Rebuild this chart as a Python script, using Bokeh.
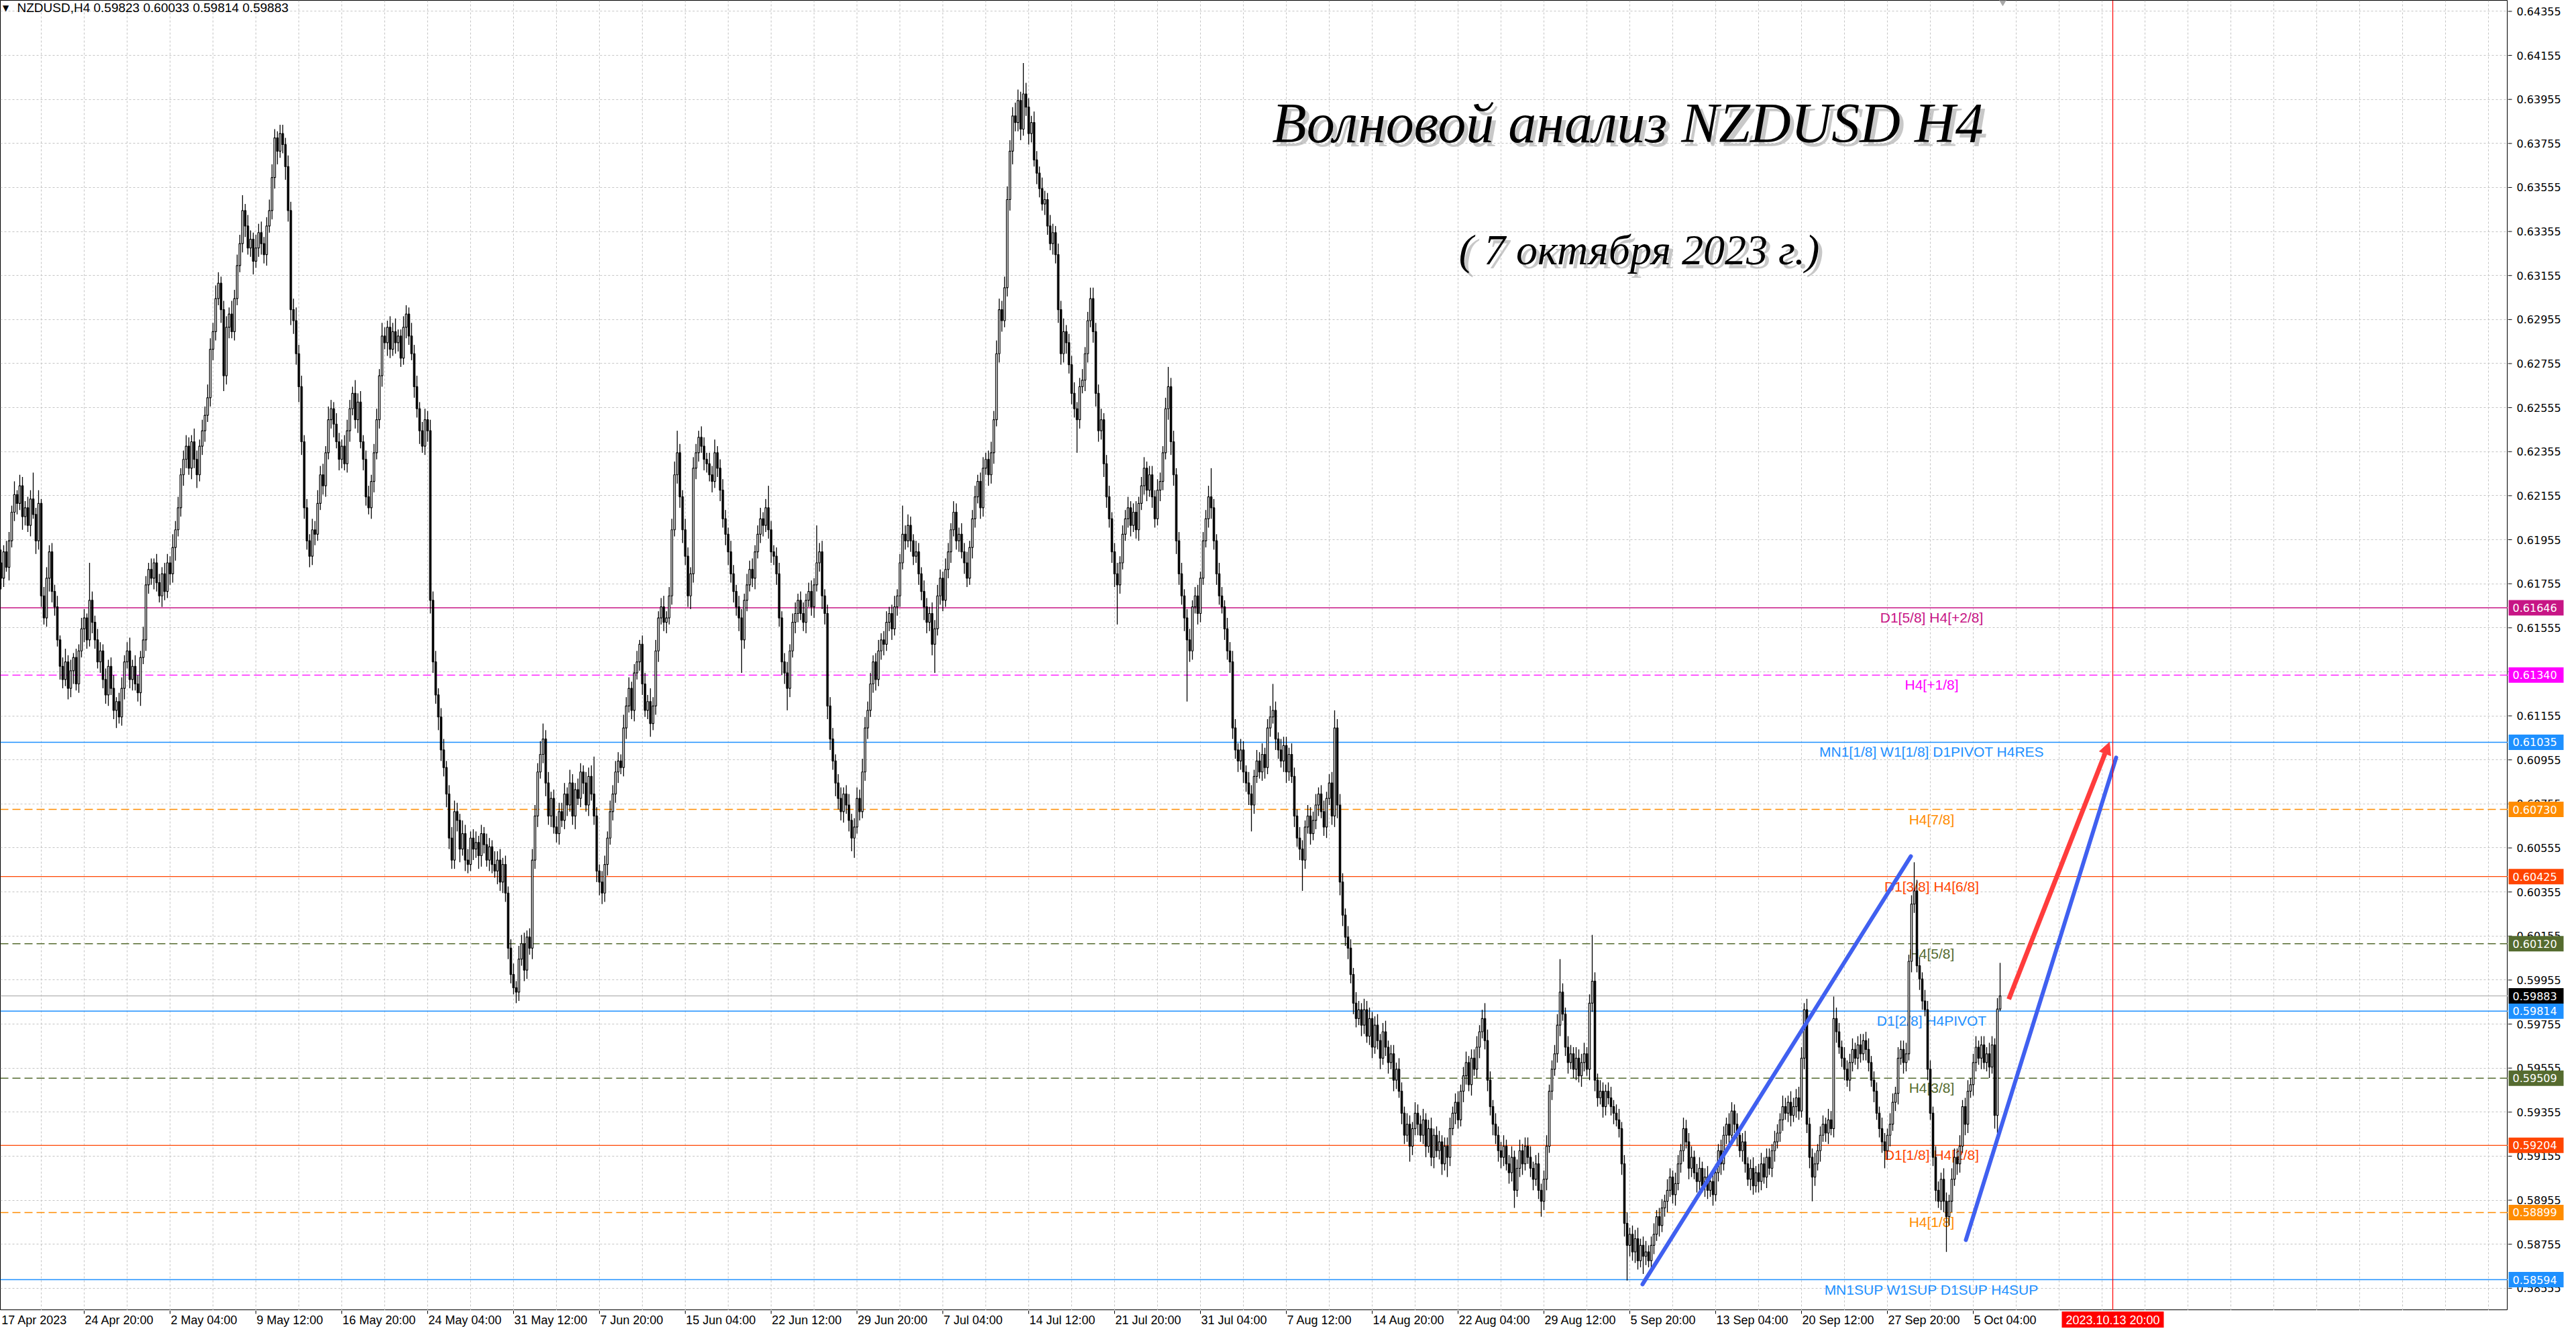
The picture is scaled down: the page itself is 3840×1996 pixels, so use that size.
import numpy as np
from bokeh.plotting import figure
from bokeh.layouts import column, row
from bokeh.models import (ColumnDataSource, Range1d, FixedTicker, Span, Label,
                          Arrow, NormalHead, Grid, Spacer)
from bokeh.core.properties import value
from bokeh.embed import file_html
from bokeh.resources import INLINE

# ---------------- DATA (prices in pips, 1 pip = 0.0001) ----------------
FIRST_BAR = 3          # bar index of first visible H4 candle (17 Apr 2023)
open_first = 6182
close_pips = [
    6185, 6178, 6190, 6183, 6195, 6208, 6216, 6212, 6220, 6206,   # 3
    6210, 6202, 6214, 6207, 6195, 6212, 6170, 6160, 6178, 6190,   # 13
    6172, 6165, 6150, 6138, 6132, 6140, 6128, 6136, 6142, 6130,   # 23
    6145, 6155, 6160, 6150, 6168, 6158, 6150, 6140, 6145, 6132,   # 33
    6125, 6138, 6128, 6118, 6122, 6115, 6128, 6140, 6145, 6132,   # 43
    6138, 6130, 6126, 6142, 6150, 6175, 6182, 6178, 6185, 6176,   # 53
    6170, 6180, 6172, 6185, 6180, 6192, 6200, 6210, 6225, 6232,   # 63
    6238, 6228, 6240, 6232, 6225, 6238, 6245, 6252, 6260, 6282,   # 73
    6290, 6305, 6312, 6300, 6270, 6292, 6298, 6290, 6305, 6320,   # 83
    6330, 6345, 6338, 6328, 6332, 6322, 6328, 6335, 6330, 6325,   # 93
    6338, 6345, 6360, 6378, 6372, 6380, 6375, 6365, 6345, 6300,   # 103
    6295, 6280, 6265, 6240, 6210, 6195, 6188, 6200, 6198, 6212,   # 113
    6225, 6220, 6235, 6250, 6255, 6248, 6240, 6232, 6238, 6230,   # 123
    6245, 6255, 6262, 6250, 6258, 6240, 6232, 6215, 6210, 6222,   # 133
    6235, 6250, 6270, 6288, 6285, 6292, 6282, 6290, 6285, 6288,   # 143
    6278, 6292, 6298, 6288, 6280, 6265, 6255, 6245, 6238, 6250,   # 153
    6245, 6168, 6140, 6125, 6115, 6100, 6092, 6080, 6060, 6050,   # 163
    6072, 6068, 6055, 6062, 6050, 6048, 6060, 6055, 6058, 6052,   # 173
    6062, 6057, 6050, 6056, 6048, 6045, 6050, 6040, 6048, 6035,   # 183
    6010, 5998, 5992, 5990, 6005, 6012, 6000, 6015, 6010, 6050,   # 193
    6070, 6090, 6098, 6105, 6085, 6070, 6078, 6065, 6062, 6072,   # 203
    6068, 6080, 6075, 6085, 6070, 6082, 6078, 6090, 6085, 6075,   # 213
    6088, 6080, 6070, 6045, 6040, 6035, 6048, 6060, 6072, 6080,   # 223
    6090, 6095, 6092, 6110, 6120, 6128, 6118, 6135, 6140, 6148,   # 233
    6130, 6118, 6122, 6112, 6120, 6145, 6160, 6165, 6158, 6160,   # 243
    6170, 6200, 6225, 6235, 6215, 6200, 6188, 6170, 6180, 6228,   # 253
    6235, 6242, 6238, 6232, 6230, 6225, 6222, 6235, 6228, 6218,   # 263
    6205, 6198, 6190, 6180, 6172, 6165, 6160, 6150, 6168, 6175,   # 273
    6182, 6178, 6190, 6198, 6205, 6202, 6210, 6200, 6190, 6188,   # 283
    6180, 6160, 6140, 6135, 6128, 6145, 6158, 6162, 6168, 6162,   # 293
    6158, 6168, 6172, 6165, 6175, 6185, 6190, 6170, 6162, 6120,   # 303
    6105, 6095, 6085, 6078, 6072, 6080, 6075, 6068, 6060, 6065,   # 313
    6078, 6072, 6090, 6110, 6118, 6130, 6140, 6132, 6145, 6150,   # 323
    6148, 6158, 6162, 6155, 6165, 6170, 6185, 6198, 6195, 6202,   # 333
    6195, 6188, 6190, 6180, 6172, 6165, 6158, 6162, 6148, 6155,   # 343
    6170, 6178, 6168, 6182, 6190, 6200, 6208, 6195, 6198, 6190,   # 353
    6185, 6178, 6192, 6205, 6215, 6222, 6210, 6228, 6232, 6225,   # 363
    6235, 6250, 6280, 6300, 6295, 6310, 6350, 6372, 6388, 6385,   # 373
    6395, 6382, 6398, 6392, 6380, 6385, 6368, 6362, 6355, 6348,   # 383
    6350, 6338, 6330, 6335, 6325, 6300, 6280, 6290, 6285, 6275,   # 393
    6262, 6255, 6250, 6265, 6268, 6280, 6295, 6305, 6290, 6262,   # 403
    6245, 6250, 6230, 6215, 6205, 6190, 6180, 6175, 6185, 6198,   # 413
    6205, 6210, 6202, 6208, 6200, 6212, 6220, 6228, 6218, 6225,   # 423
    6215, 6205, 6218, 6222, 6235, 6255, 6265, 6240, 6225, 6195,   # 433
    6180, 6170, 6160, 6150, 6145, 6165, 6170, 6162, 6178, 6195,   # 443
    6205, 6215, 6210, 6195, 6180, 6170, 6165, 6155, 6145, 6140,   # 453
    6110, 6100, 6095, 6100, 6090, 6085, 6080, 6075, 6088, 6095,   # 463
    6090, 6098, 6092, 6110, 6115, 6118, 6105, 6100, 6095, 6102,   # 473
    6090, 6098, 6088, 6070, 6060, 6055, 6050, 6065, 6070, 6062,   # 483
    6068, 6075, 6080, 6072, 6065, 6078, 6085, 6070, 6110, 6075,   # 493
    6040, 6025, 6015, 6010, 5998, 5985, 5978, 5982, 5975, 5982,   # 503
    5970, 5978, 5965, 5975, 5968, 5960, 5972, 5965, 5958, 5962,   # 513
    5950, 5955, 5945, 5935, 5925, 5930, 5920, 5928, 5935, 5930,   # 523
    5925, 5932, 5920, 5928, 5915, 5925, 5918, 5922, 5912, 5920,   # 533
    5915, 5928, 5935, 5940, 5932, 5945, 5952, 5958, 5948, 5960,   # 543
    5955, 5965, 5972, 5978, 5968, 5950, 5938, 5930, 5925, 5918,   # 553
    5915, 5920, 5912, 5908, 5915, 5900, 5910, 5918, 5912, 5920,   # 563
    5915, 5910, 5905, 5912, 5900, 5895, 5905, 5920, 5945, 5955,   # 573
    5962, 5975, 5990, 5980, 5965, 5958, 5962, 5955, 5960, 5952,   # 583
    5958, 5962, 5955, 5985, 5995, 5950, 5942, 5945, 5938, 5945,   # 593
    5942, 5938, 5935, 5932, 5928, 5912, 5885, 5875, 5880, 5872,   # 603
    5878, 5868, 5875, 5870, 5872, 5868, 5875, 5880, 5888, 5884,   # 613
    5892, 5895, 5900, 5906, 5898, 5903, 5912, 5918, 5928, 5922,   # 623
    5910, 5915, 5908, 5904, 5910, 5902, 5906, 5900, 5904, 5898,   # 633
    5908, 5918, 5912, 5925, 5930, 5925, 5936, 5930, 5925, 5918,   # 643
    5922, 5912, 5905, 5910, 5902, 5908, 5904, 5912, 5906, 5915,   # 653
    5910, 5918, 5922, 5926, 5932, 5938, 5935, 5940, 5934, 5938,   # 663
    5942, 5936, 5960, 5982, 5930, 5915, 5906, 5912, 5918, 5925,   # 673
    5930, 5926, 5932, 5928, 5978, 5972, 5965, 5960, 5955, 5950,   # 683
    5958, 5964, 5960, 5966, 5962, 5968, 5964, 5958, 5950, 5945,   # 693
    5935, 5928, 5922, 5918, 5925, 5930, 5940, 5944, 5960, 5964,   # 703
    5958, 5962, 6004, 6030, 6036, 6002, 5996, 5986, 5982, 5955,   # 713
    5935, 5915, 5900, 5895, 5905, 5895, 5888, 5895, 5905, 5915,   # 723
    5912, 5920, 5938, 5930, 5945, 5948, 5958, 5965, 5960, 5966,   # 733
    5958, 5962, 5956, 5966, 5934, 5982.3, 5988.3,                 # 743
]
upper_wick = [
    4,6,3,5,4,3,6,2,5,4,  3,5,4,12,3,6,2,4,5,3,  4,3,5,2,4,6,3,5,2,4,
    3,5,4,2,17,4,3,5,4,3,  5,3,4,6,2,4,5,3,4,6,  3,5,4,3,6,4,3,5,2,4,
    4,3,5,4,3,6,4,5,3,4,  5,4,3,6,4,3,5,4,6,5,  4,6,5,3,4,5,3,6,4,5,
    4,7,3,5,4,3,6,4,5,3,  4,5,6,4,3,4,4,3,5,4,  5,6,4,5,3,4,3,5,4,6,
    4,5,3,6,4,3,5,4,3,5,  5,4,3,6,4,5,3,4,5,3,  4,5,3,6,4,3,5,4,6,3,
    3,5,4,3,6,4,5,3,4,5,  4,5,4,5,3,4,5,3,4,5,  5,4,3,6,4,5,3,4,5,3,
    4,3,5,4,3,6,4,5,3,4,  3,4,5,3,6,4,5,3,4,5,  5,4,6,7,4,5,3,4,5,4,
    4,5,3,6,4,3,5,4,3,5,  4,5,17,4,3,5,4,3,5,4,  5,4,3,6,4,5,3,4,5,2,
    4,5,3,6,4,5,3,4,5,3,  4,5,6,10,4,3,5,4,3,5,  4,3,5,4,3,5,4,6,3,4,
    5,4,3,5,4,3,5,4,3,5,  4,5,3,4,5,3,4,10,4,3,  4,5,3,4,5,3,4,5,3,4,
    5,3,4,5,3,17,4,5,3,4,  4,5,3,4,5,3,4,5,3,4,  5,4,6,5,4,5,3,4,5,3,
    4,5,3,4,5,3,4,13,4,5,  4,3,5,4,3,5,4,3,5,4,  5,4,3,5,4,3,5,4,3,5,
    4,5,3,4,5,3,4,5,3,4,  5,4,6,5,4,5,6,5,4,6,  5,4,14,5,4,3,5,4,3,5,
    4,3,5,4,3,5,4,6,3,4,  4,5,3,4,5,3,4,5,5,4,  4,5,3,4,5,3,4,5,3,4,
    4,5,3,4,5,3,4,5,3,4,  4,3,5,4,3,5,9,4,5,3,  4,5,3,4,5,3,4,5,3,4,
    4,5,13,4,3,5,4,3,5,4,  5,4,3,5,4,3,5,4,3,5,  4,5,3,4,5,12,4,3,5,4,
    4,3,5,4,3,5,4,3,5,4,  4,5,3,4,5,3,4,5,8,4,  5,4,3,5,4,3,5,4,3,5,
    4,5,3,4,5,3,4,5,3,4,  4,3,5,4,3,5,4,3,5,4,  4,5,3,4,5,3,4,5,3,4,
    4,5,3,4,5,3,4,5,3,4,  4,5,3,4,7,5,4,3,5,4,  4,5,3,4,5,3,4,5,3,4,
    4,5,3,4,5,3,4,5,3,4,  4,5,15,4,3,5,4,3,5,4,  4,5,3,4,21,4,3,5,4,3,
    4,5,3,4,5,3,4,5,3,4,  4,5,3,4,5,3,4,5,3,4,  4,3,5,4,3,5,4,3,5,4,
    4,5,3,4,5,3,4,5,3,4,  4,3,5,4,3,5,4,3,5,4,  4,5,3,4,5,3,4,5,3,4,
    4,3,5,4,3,5,4,3,5,4,  4,5,5,3,5,3,4,5,3,4,  4,3,5,4,10,5,4,3,5,4,
    4,5,3,4,5,3,4,5,3,4,  4,3,5,4,3,5,4,3,5,4,  4,5,3,4,13,5,4,3,5,4,
    4,3,5,4,3,5,4,3,5,4,  4,5,3,4,5,3,4,5,3,4,  4,3,5,4,3,5,15,
]
lower_wick = [
    3,5,4,2,6,3,4,5,3,6,  4,3,5,2,6,4,5,3,4,6,  5,4,3,6,4,3,5,4,6,3,
    4,3,6,4,3,5,4,3,5,4,  4,5,3,4,8,3,4,5,3,4,  5,3,4,6,3,5,4,3,5,4,
    3,5,4,3,5,4,6,3,4,5,  4,3,5,4,6,3,4,5,3,4,  5,4,3,6,7,4,5,3,4,3,
    3,4,5,3,4,6,3,4,5,4,  5,3,4,5,6,3,4,6,5,7,  6,5,7,6,5,4,5,4,5,3,
    3,4,5,3,4,6,3,5,4,3,  4,5,3,4,6,3,5,4,3,5,  5,3,4,5,3,6,4,3,5,4,
    4,3,5,4,3,5,4,6,3,4,  5,6,5,4,6,5,4,6,5,4,  4,5,6,3,5,4,3,5,4,6,
    5,4,3,5,4,3,6,4,5,4,  5,4,3,5,4,3,5,4,3,5,  4,5,3,4,6,4,5,3,4,5,
    3,4,5,3,4,6,3,4,5,3,  5,3,4,5,6,5,4,5,3,4,  4,5,3,4,5,3,4,5,3,4,
    5,3,4,6,3,4,5,3,4,5,  3,4,3,4,5,6,4,5,6,4,  5,4,3,5,4,3,5,3,4,5,
    4,5,6,4,5,4,6,15,4,5,  3,4,5,3,4,5,3,4,5,4,  5,4,6,5,10,4,3,5,4,3,
    4,5,3,4,5,3,4,6,5,6,  5,4,6,5,4,5,4,5,6,9,  3,4,3,4,5,3,4,5,3,4,
    5,3,4,5,3,4,5,3,4,3,  5,4,3,5,4,6,5,4,5,13,  3,4,5,3,4,5,3,4,5,3,
    5,4,3,5,4,3,5,4,3,5,  4,5,3,4,5,3,4,5,6,4,  4,5,3,4,5,4,3,5,4,3,
    5,4,3,5,4,6,5,4,5,4,  5,4,15,4,3,5,4,3,5,6,  5,4,6,5,4,5,6,18,4,3,
    3,4,5,3,4,5,3,4,5,3,  5,4,3,5,4,3,5,6,5,6,  5,4,6,28,5,4,3,5,4,3,
    3,4,5,4,5,4,3,5,4,5,  5,4,5,4,5,4,5,12,4,3,  3,4,5,3,4,3,5,4,3,5,
    5,4,3,5,4,5,14,4,3,5,  3,4,5,3,4,5,3,4,5,6,  6,5,4,5,4,5,4,3,5,4,
    3,4,5,3,4,5,3,4,5,3,  5,4,3,5,4,3,7,4,3,5,  3,4,5,3,4,5,3,4,5,3,
    9,4,3,5,4,3,5,4,3,5,  3,4,5,3,4,5,4,5,4,5,  5,4,3,5,4,8,3,4,5,3,
    3,4,5,3,4,7,4,5,3,4,  3,4,5,3,4,5,3,4,5,3,  5,4,3,5,4,5,4,3,5,4,
    3,4,5,3,4,5,6,16,5,4,  5,4,3,8,4,3,5,4,3,5,  3,4,5,3,4,5,3,4,5,3,
    5,4,3,5,4,3,5,4,3,5,  3,4,5,3,4,5,3,4,5,3,  5,4,3,5,4,3,5,4,3,5,
    3,4,5,3,4,5,3,4,5,3,  5,4,3,5,4,5,11,4,3,5,  3,4,5,3,4,5,3,4,5,3,
    5,4,3,5,4,3,5,4,3,5,  3,4,5,8,4,5,3,4,5,3,  5,4,3,5,4,3,5,4,3,5,
    3,4,5,3,4,5,16,4,5,3,  5,4,3,5,4,3,5,4,3,5,  3,4,5,3,6,8,0.9,
]

# level lines (price, caption, colour, dashed?)
level_prices = [0.61646, 0.61340, 0.61035, 0.60730, 0.60425, 0.60120,
                0.59814, 0.59509, 0.59204, 0.58899, 0.58594]
level_names = ["D1[5/8] H4[+2/8]", "H4[+1/8]", "MN1[1/8] W1[1/8] D1PIVOT H4RES",
               "H4[7/8]", "D1[3/8] H4[6/8]", "H4[5/8]", "D1[2/8] H4PIVOT",
               "H4[3/8]", "D1[1/8] H4[2/8]", "H4[1/8]", "MN1SUP W1SUP D1SUP H4SUP"]
level_colors = ["#C71585", "#FF00FF", "#1E90FF", "#FF8C00", "#FF4500", "#556B2F",
                "#1E90FF", "#556B2F", "#FF4500", "#FF8C00", "#1E90FF"]
level_dashed = [False, True, False, True, False, True, False, True, False, True, False]
bid_price = 0.59883

# price axis ticks
price_ticks = [0.58555, 0.58755, 0.58955, 0.59155, 0.59355, 0.59555, 0.59755,
               0.59955, 0.60155, 0.60355, 0.60555, 0.60755, 0.60955, 0.61155,
               0.61355, 0.61555, 0.61755, 0.61955, 0.62155, 0.62355, 0.62555,
               0.62755, 0.62955, 0.63155, 0.63355, 0.63555, 0.63755, 0.63955,
               0.64155, 0.64355]
# time axis (bar index of each label)
date_tick_bars = [35, 67, 99, 131, 163, 195, 227, 259, 291, 323, 355, 387, 419,
                  451, 483, 515, 547, 579, 611, 643, 675, 707, 739]
date_tick_labels = ["24 Apr 20:00", "2 May 04:00", "9 May 12:00", "16 May 20:00",
                    "24 May 04:00", "31 May 12:00", "7 Jun 20:00", "15 Jun 04:00",
                    "22 Jun 12:00", "29 Jun 20:00", "7 Jul 04:00", "14 Jul 12:00",
                    "21 Jul 20:00", "31 Jul 04:00", "7 Aug 12:00", "14 Aug 20:00",
                    "22 Aug 04:00", "29 Aug 12:00", "5 Sep 20:00", "13 Sep 04:00",
                    "20 Sep 12:00", "27 Sep 20:00", "5 Oct 04:00"]
first_date_label = "17 Apr 2023"
future_bar = 791
future_label = "2023.10.13 20:00"

# analyst drawings
trend1_x = [615.75, 715.75]
trend1_y = [0.58573, 0.60517]
trend2_x = [736.25, 792.25]
trend2_y = [0.58774, 0.60965]
arrow_x = [752.25, 789.75]
arrow_y = [0.59868, 0.61035]

header_text = "NZDUSD,H4  0.59823 0.60033 0.59814 0.59883"
title_text = "Волновой анализ NZDUSD H4"
subtitle_text = "( 7 октября 2023 г.)"

# ---------------- BUILD ----------------
n = min(len(close_pips), len(upper_wick), len(lower_wick))
cp = np.array(close_pips[:n], dtype=float)
op = np.concatenate([[open_first], cp[:-1]])
hp = np.maximum(op, cp) + np.array(upper_wick[:n], dtype=float)
lp = np.minimum(op, cp) - np.array(lower_wick[:n], dtype=float)
bars = np.arange(FIRST_BAR, FIRST_BAR + n)

src = ColumnDataSource(dict(
    x=bars, h=hp / 1e4, l=lp / 1e4,
    top=np.maximum(op, cp) / 1e4, bottom=np.minimum(op, cp) / 1e4,
    fill=["white" if c >= o else "black" for o, c in zip(op, cp)],
))

X0, X1 = 3.75, 938.25
Y0, Y1 = 0.58454, 0.64405
FRAME_W, FRAME_H = 3738, 1953
AXIS_W, AXIS_H = 86, 27

common = dict(output_backend="svg", toolbar_location=None, x_axis_location=None,
              y_axis_location=None, min_border=0, background_fill_color="white",
              border_fill_color="white")

# ---- main chart ----
p = figure(width=FRAME_W, height=FRAME_H, x_range=Range1d(X0, X1),
           y_range=Range1d(Y0, Y1), **common)
p.outline_line_color = "black"
p.outline_line_width = 1
p.grid.visible = False
p.add_layout(Grid(dimension=0, ticker=FixedTicker(ticks=list(range(3, 939, 16))),
                  grid_line_color="#C4C4C4", grid_line_dash="3 3"))
p.add_layout(Grid(dimension=1, ticker=FixedTicker(ticks=price_ticks),
                  grid_line_color="#C4C4C4", grid_line_dash="3 3"))

for pr, nm, col, dsh in zip(level_prices, level_names, level_colors, level_dashed):
    p.add_layout(Span(location=pr, dimension="width", line_color=col, line_width=1.4,
                      line_dash="12 6" if dsh else "solid", level="underlay"))
    p.add_layout(Label(x=723.5, y=pr, y_offset=-3, text=nm, text_align="center",
                       text_baseline="top", text_color=col, text_font="Liberation Sans",
                       text_font_size="21px", level="underlay"))
p.add_layout(Span(location=bid_price, dimension="width", line_color="#BBBBBB",
                  line_width=1.4, level="underlay"))
p.add_layout(Span(location=future_bar, dimension="height", line_color="#FF0000",
                  line_width=1.2))

# candles
p.segment(x0="x", y0="l", x1="x", y1="h", source=src, line_color="black", line_width=1.3)
p.vbar(x="x", width=0.6, top="top", bottom="bottom", fill_color="fill",
       line_color="black", line_width=1.2, source=src)

# chart shift marker
p.scatter(x=[750], y=[Y1], marker="inverted_triangle", size=14, color="#A8A8A8")

# trend lines and arrow
p.line(trend1_x, trend1_y, line_color="#4060F0", line_width=6, line_cap="round")
p.line(trend2_x, trend2_y, line_color="#4060F0", line_width=6, line_cap="round")
p.add_layout(Arrow(end=NormalHead(size=18, fill_color="#FF3C3C", line_color="#FF3C3C"),
                   x_start=arrow_x[0], y_start=arrow_y[0], x_end=arrow_x[1],
                   y_end=arrow_y[1], line_color="#FF3C3C", line_width=7))

# header
p.add_layout(Label(x=4.6, y=0.64371, text="▼", text_align="left", text_baseline="middle",
                   text_font="DejaVu Sans", text_font_size="12px", text_color="black"))
p.add_layout(Label(x=10, y=0.64371, text=header_text, text_align="left",
                   text_baseline="middle", text_font="Liberation Sans",
                   text_font_size="19px", text_color="black"))

# title with soft shadow
for dx, dy, col, alpha in [(6, -6, "#9A9A9A", 0.55), (0, 0, "black", 1.0)]:
    p.add_layout(Label(x=610.25, y=0.63848, x_offset=dx, y_offset=dy, text=title_text,
                       text_align="center", text_baseline="middle",
                       text_font="Liberation Serif", text_font_style="italic",
                       text_font_size="84px", text_color=col, text_alpha=alpha))
    p.add_layout(Label(x=614.5, y=0.63272, x_offset=dx, y_offset=dy, text=subtitle_text,
                       text_align="center", text_baseline="middle",
                       text_font="Liberation Serif", text_font_style="italic",
                       text_font_size="64px", text_color=col, text_alpha=alpha))

# ---- right price scale (pixel x units) ----
pr_ax = figure(width=AXIS_W, height=FRAME_H, x_range=Range1d(0, AXIS_W),
               y_range=p.y_range, **common)
pr_ax.outline_line_color = None
pr_ax.grid.visible = False
pr_ax.segment(x0=[0] * len(price_ticks), x1=[6] * len(price_ticks),
              y0=price_ticks, y1=price_ticks, line_color="black", line_width=1)
pr_ax.text(x=[13] * len(price_ticks), y=price_ticks,
           text=["%.5f" % t for t in price_ticks], text_align="left",
           text_baseline="middle", text_font=value("DejaVu Sans"),
           text_font_size=value("16px"), text_color="black")
box_prices = level_prices + [bid_price]
box_colors = level_colors + ["#000000"]
pr_ax.rect(x=[42] * len(box_prices), y=box_prices, width=82, height=23,
           height_units="screen", fill_color=box_colors, line_color=None)
pr_ax.text(x=[7] * len(box_prices), y=box_prices, text=["%.5f" % v for v in box_prices],
           text_align="left", text_baseline="middle", text_font=value("DejaVu Sans"),
           text_font_size=value("16px"), text_color="white")

# ---- bottom time scale (pixel y units) ----
pb_ax = figure(width=FRAME_W, height=AXIS_H, x_range=p.x_range,
               y_range=Range1d(0, AXIS_H), **common)
pb_ax.outline_line_color = None
pb_ax.grid.visible = False
pb_ax.segment(x0=date_tick_bars, x1=date_tick_bars, y0=[AXIS_H] * len(date_tick_bars),
              y1=[AXIS_H - 5] * len(date_tick_bars), line_color="black", line_width=1)
date_font = value("Liberation Sans")
pb_ax.text(x=[X0 + 0.2] + date_tick_bars, y=[13] * (len(date_tick_bars) + 1),
           text=[first_date_label] + date_tick_labels, x_offset=1, text_align="left",
           text_baseline="middle", text_font=date_font, text_font_size=value("18px"),
           text_color="black")
pb_ax.rect(x=[future_bar], y=[13.5], width=152, height=24, width_units="screen",
           fill_color="#FF0000", line_color=None)
pb_ax.text(x=[future_bar], y=[13], text=[future_label], text_align="center",
           text_baseline="middle", text_font=date_font, text_font_size=value("18px"),
           text_color="white")

layout = column(row(p, pr_ax), row(pb_ax, Spacer(width=AXIS_W, height=AXIS_H)))
open("out.html", "w").write(file_html(layout, INLINE))
